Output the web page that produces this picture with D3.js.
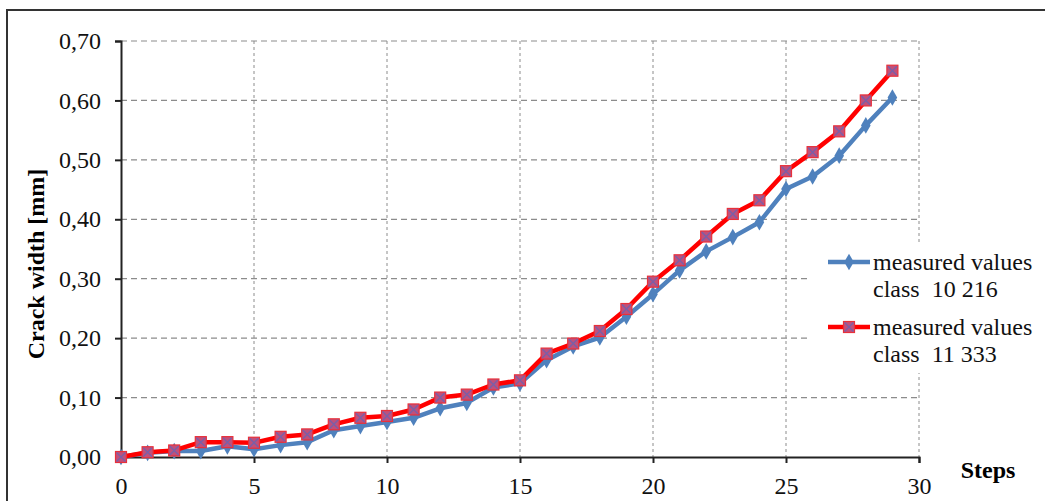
<!DOCTYPE html>
<html>
<head>
<meta charset="utf-8">
<script src="https://cdn.jsdelivr.net/npm/d3@7"></script>
<style>
  body { margin: 0; background: #fff; }
  svg text { font-family: "Liberation Serif", "DejaVu Serif", "Times New Roman", serif; }
</style>
</head>
<body>
<div id="chart"></div>
<script>
// data
const steps = d3.range(0, 30);
const class10216 = [0, 0.007, 0.010, 0.010, 0.018, 0.013, 0.020, 0.025, 0.045, 0.052,
  0.059, 0.066, 0.082, 0.091, 0.117, 0.124, 0.163, 0.186, 0.201, 0.236,
  0.274, 0.314, 0.346, 0.370, 0.395, 0.451, 0.472, 0.507, 0.558, 0.605];
const class11333 = [0, 0.008, 0.011, 0.025, 0.025, 0.024, 0.034, 0.038, 0.055, 0.066,
  0.069, 0.080, 0.100, 0.105, 0.122, 0.129, 0.174, 0.191, 0.212, 0.249,
  0.295, 0.331, 0.371, 0.409, 0.432, 0.481, 0.513, 0.548, 0.600, 0.650];
const xTicks = [0, 5, 10, 15, 20, 25, 30];
const yTicks = [0, 0.1, 0.2, 0.3, 0.4, 0.5, 0.6, 0.7];
const seriesNames = [["measured values", "class  10 216"], ["measured values", "class  11 333"]];

const width = 1045, height = 501;
const blue = "#4f81bd", red = "#ff0000";
const serif = "Liberation Serif, DejaVu Serif, serif";

const svg = d3.select("#chart").append("svg")
  .attr("width", width)
  .attr("height", height);

// outer frame (cut off at right/bottom)
svg.append("rect")
  .attr("x", 7).attr("y", 10)
  .attr("width", 1045).attr("height", 520)
  .attr("fill", "none").attr("stroke", "#333").attr("stroke-width", 2);

const x = d3.scaleLinear().domain([0, 30]).range([121, 919]);
const y = d3.scaleLinear().domain([0, 0.7]).range([457, 41]);

const comma = d => d3.format(".2f")(d).replace(".", ",");

// grid
const grid = svg.append("g");
grid.selectAll("line.h")
  .data(yTicks.filter(d => d > 0))
  .join("line")
  .attr("class", "h")
  .attr("x1", x(0)).attr("x2", x(30))
  .attr("y1", d => y(d)).attr("y2", d => y(d))
  .attr("stroke", "#8c8c8c").attr("stroke-width", 1.2)
  .attr("stroke-dasharray", "6,4");
grid.selectAll("line.v")
  .data(xTicks.filter(d => d > 0))
  .join("line")
  .attr("class", "v")
  .attr("x1", d => x(d)).attr("x2", d => x(d))
  .attr("y1", y(0.7)).attr("y2", y(0))
  .attr("stroke", "#8c8c8c").attr("stroke-width", 1)
  .attr("stroke-dasharray", "3,3");

// axes
const yAxis = svg.append("g")
  .attr("transform", `translate(${x(0)},0)`)
  .call(d3.axisLeft(y).tickValues(yTicks).tickFormat(comma).tickSize(6).tickPadding(14));
const xAxis = svg.append("g")
  .attr("transform", `translate(0,${y(0)})`)
  .call(d3.axisBottom(x).tickValues(xTicks).tickSize(6).tickPadding(14));
[yAxis, xAxis].forEach(a => {
  a.attr("font-family", serif).attr("font-size", 24);
  a.select(".domain").attr("stroke", "#222").attr("stroke-width", 2);
  a.selectAll(".tick line").attr("stroke", "#222").attr("stroke-width", 2);
  a.selectAll("text").attr("font-family", serif).attr("fill", "#111");
});

// axis titles
svg.append("text")
  .attr("transform", "translate(44,264) rotate(-90)")
  .attr("text-anchor", "middle")
  .attr("font-family", serif)
  .attr("font-size", 24).attr("font-weight", "bold")
  .text("Crack width [mm]");
svg.append("text")
  .attr("x", 988).attr("y", 478)
  .attr("text-anchor", "middle")
  .attr("font-family", serif)
  .attr("font-size", 24).attr("font-weight", "bold")
  .text("Steps");

const line = d3.line().x((d, i) => x(steps[i])).y(d => y(d));

// blue series
svg.append("path")
  .datum(class10216)
  .attr("d", line)
  .attr("fill", "none").attr("stroke", blue).attr("stroke-width", 4.5)
  .attr("stroke-linejoin", "round");
const diamond = d3.symbol().type(d3.symbolDiamond).size(80);
svg.append("g").selectAll("path")
  .data(class10216)
  .join("path")
  .attr("d", diamond)
  .attr("transform", (d, i) => `translate(${x(steps[i])},${y(d)})`)
  .attr("fill", blue);

// red series
svg.append("path")
  .datum(class11333)
  .attr("d", line)
  .attr("fill", "none").attr("stroke", red).attr("stroke-width", 4.5)
  .attr("stroke-linejoin", "round");

function redMarker(g) {
  g.append("rect")
    .attr("x", -5.5).attr("y", -5.5).attr("width", 11).attr("height", 11)
    .attr("fill", "#c0507a").attr("stroke", "#e8303a").attr("stroke-width", 1.2);
  g.append("path")
    .attr("d", "M-4.5,-4.5L4.5,4.5M-4.5,4.5L4.5,-4.5")
    .attr("stroke", "#7a5fa8").attr("stroke-width", 1.4);
}
svg.append("g").selectAll("g")
  .data(class11333)
  .join("g")
  .attr("transform", (d, i) => `translate(${x(steps[i])},${y(d)})`)
  .each(function () { redMarker(d3.select(this)); });

// legend
const legend = svg.append("g");
legend.append("rect")
  .attr("x", 810).attr("y", 242).attr("width", 230).attr("height", 131)
  .attr("fill", "#fff");
const rows = [{ c: blue, y: 262 }, { c: red, y: 327 }];
rows.forEach((r, i) => {
  legend.append("line")
    .attr("x1", 828).attr("x2", 870).attr("y1", r.y).attr("y2", r.y)
    .attr("stroke", r.c).attr("stroke-width", 4.5);
  if (i === 0) {
    legend.append("path").attr("d", diamond)
      .attr("transform", `translate(849,${r.y})`).attr("fill", blue);
  } else {
    redMarker(legend.append("g").attr("transform", `translate(849,${r.y})`));
  }
  legend.append("text")
    .attr("x", 873).attr("y", r.y + 8)
    .attr("font-family", serif)
    .attr("font-size", 24).attr("fill", "#111")
    .text(seriesNames[i][0]);
  legend.append("text")
    .attr("x", 873).attr("y", r.y + 35)
    .attr("font-family", serif)
    .attr("font-size", 24).attr("fill", "#111")
    .style("white-space", "pre")
    .text(seriesNames[i][1]);
});
</script>
</body>
</html>
